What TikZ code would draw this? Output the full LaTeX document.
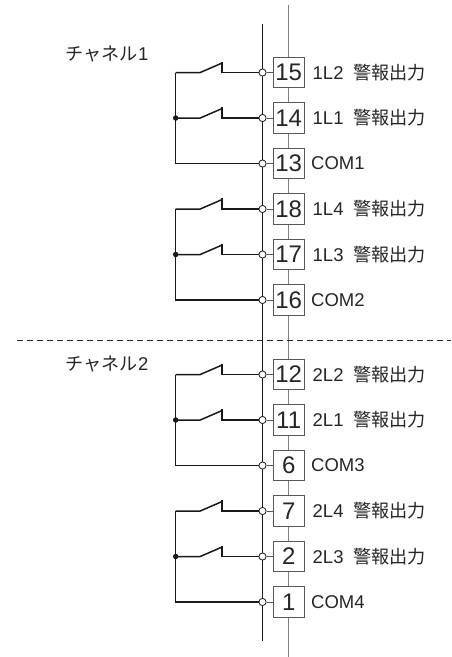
\documentclass[tikz,border=0pt]{standalone}
\usepackage{fontspec}
\usetikzlibrary{calc}
\setmainfont{Liberation Sans}
\newfontfamily\jp{Noto Sans CJK JP}[Scale=0.98]
\tikzset{
  x=1pt,y=-1pt,
  wire/.style={line width=1.5pt,black!90,line join=miter},
  rail/.style={line width=1.1pt,black!90},
  greyrail/.style={line width=1.2pt,black!50},
  stub/.style={line width=0.9pt,black!65},
  term/.style={draw=black!65,fill=white,line width=0.9pt,minimum width=30.5pt,minimum height=30.5pt,inner sep=0pt,font=\fontsize{24}{24}\selectfont,text=black!85},
  tap/.style={circle,draw=black!90,fill=white,line width=0.8pt,minimum size=7.2pt,inner sep=0pt},
  dot/.style={circle,fill=black!90,minimum size=5.5pt,inner sep=0pt},
  lab/.style={anchor=west,inner sep=0pt,font=\fontsize{18.5}{18.5}\selectfont,text=black!85},
  chan/.style={anchor=west,inner sep=0pt,font=\fontsize{18.5}{18.5}\selectfont,text=black!85},
  sep/.style={line width=0.9pt,black!85,dash pattern=on 6pt off 4pt}
}
\newcommand{\alarm}[1]{\hspace{1.5pt}#1\hspace{9.5pt}{\jp 警報出力}}
\begin{document}
\begin{tikzpicture}
\useasboundingbox (0,0) rectangle (451,657);
\fill[white] (0,0) rectangle (451,657);
% rails ends
\coordinate (gtop) at (288.7,5);
\coordinate (gbot) at (288.7,657);
\coordinate (btop) at (262.5,24);
\coordinate (bbot) at (262.5,641);
\coordinate (dl) at (17,340.3);
\coordinate (dr) at (451,340.3);
\draw[greyrail] (gtop) -- (gbot);
\draw[rail] (btop) -- (bbot);
\draw[sep] (dl) -- (dr);
% terminals
\foreach \n/\yy/\txt in {
  15/72.5/\alarm{1L2},14/118/\alarm{1L1},13/163.5/COM1,
  18/209/\alarm{1L4},17/254.5/\alarm{1L3},16/300/COM2,
  12/374.5/\alarm{2L2},11/420/\alarm{2L1},6/465.5/COM3,
  7/511/\alarm{2L4},2/556.5/\alarm{2L3},1/602/COM4}{
  \node[term] (t\n) at (288.7,\yy) {\n};
  \node[tap] (c\n) at (262.5,\yy) {};
  \draw[stub] (c\n) -- (t\n);
  \node[lab,name=l\n] at (311,\yy) {\txt};
  \coordinate (e\n) at (175.7,\yy);
}
% contact groups: upper, middle, common
\foreach \a/\b/\c in {15/14/13,18/17/16,12/11/6,7/2/1}{
  \draw[wire] (e\a) -- (e\c) -- (c\c);
  \foreach \s in {\a,\b}{
    \draw[wire] (e\s) -- ++(24.5,0) -- ++(22,-9.5);
    \draw[wire] (c\s) -- ($(e\s)+(46.5,0)$) -- ++(0,-11);
  }
  \node[dot] (j\b) at (e\b) {};
}
\node[chan] (ch1) at (65.5,54) {{\jp チャネル}1};
\node[chan] (ch2) at (65.5,364) {{\jp チャネル}2};
\end{tikzpicture}
\end{document}
